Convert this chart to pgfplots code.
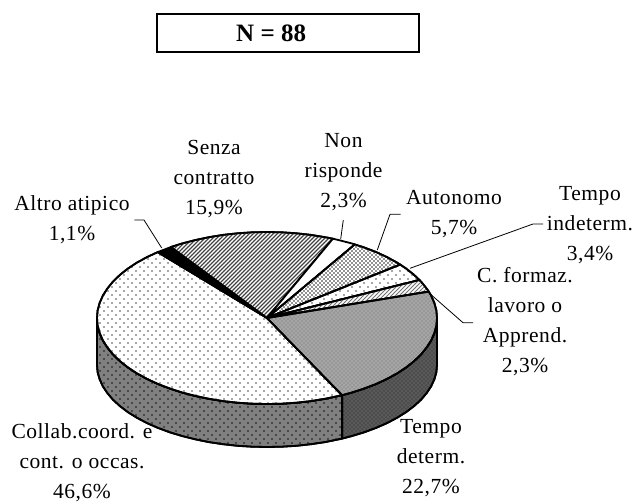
\documentclass[border=0pt]{standalone}
\usepackage{fontspec}
\setmainfont{Liberation Serif}
\usepackage{pgfplots}
\pgfplotsset{compat=1.18}
\usetikzlibrary{patterns.meta}
\tikzset{
  edge/.style={draw=black, line width=1.8pt, line join=round},
  leader/.style={draw=black, line width=0.8pt},
  lab/.style={align=center, font=\fontsize{21.5}{30}\selectfont\addfontfeature{LetterSpace=2.5}, inner sep=0pt},
}
\begin{document}
\begin{tikzpicture}
\begin{axis}[
    width=635pt, height=503pt, scale only axis,
    xmin=0, xmax=635, ymin=0, ymax=503,
    y dir=reverse,
    hide axis, clip=false,
  ]
\path (axis cs:0,0) rectangle (axis cs:635,503);

% side wall, Collab. (180 to 296.2 deg)
\addplot[edge, fill=black!50, postaction={pattern={Dots[radius=0.85pt,distance=5.657pt,angle=45]}, pattern color=black}] coordinates {
  (97,318) (97.6,325.5) (99.6,332.9) (102.8,340.3) (107.3,347.4) (112.9,354.3) (119.8,361) (127.7,367.3)
  (136.8,373.3) (146.8,378.8) (157.7,383.9) (169.5,388.4) (182,392.5) (195.2,395.9) (208.9,398.8) (223,401.1)
  (237.5,402.7) (252.2,403.7) (267,404) (281.8,403.7) (296.5,402.7) (311,401.1) (325.1,398.8) (338.8,395.9) (342.1,395.2)
  (342.1,438.6) (338.8,439.3) (325.1,442.1) (311,444.2) (296.5,445.8) (281.8,446.7) (267,447) (252.2,446.7) (237.5,445.8)
  (223,444.2) (208.9,442.1) (195.2,439.3) (182,436) (169.5,432.2) (157.7,427.8) (146.8,423) (136.8,417.7)
  (127.7,412) (119.8,406) (112.9,399.7) (107.3,393) (102.8,386.2) (99.6,379.2) (97.6,372.1) (97,365)
} -- cycle;

% side wall, Tempo determ. (296.2 to 360 deg)
\addplot[edge, fill=black!65, postaction={pattern={Dots[radius=0.6pt,distance=2.828pt,angle=45]}, pattern color=black}] coordinates {
  (342.1,395.2) (352,392.5) (364.5,388.4) (376.3,383.9) (387.2,378.8) (397.2,373.3) (406.3,367.3) (414.2,361)
  (421.1,354.3) (426.7,347.4) (431.2,340.3) (434.4,332.9) (436.4,325.5) (437,318)
  (437,365) (436.4,372.1) (434.4,379.2) (431.2,386.2) (426.7,393) (421.1,399.7) (414.2,406) (406.3,412)
  (397.2,417.7) (387.2,423) (376.3,427.8) (364.5,432.2) (352,436) (342.1,438.6)
} -- cycle;

% Collab.coord. e cont. o occas. 46,6%
\addplot[edge, fill=white, postaction={pattern={Dots[radius=0.85pt,distance=5.657pt,angle=45]}, pattern color=black!80}] coordinates {
  (267,318) (342.1,395.2) (338.8,395.9) (325.1,398.8) (311,401.1) (296.5,402.7) (281.8,403.7) (267,404) (252.2,403.7)
  (237.5,402.7) (223,401.1) (208.9,398.8) (195.2,395.9) (182,392.5) (169.5,388.4) (157.7,383.9) (146.8,378.8)
  (136.8,373.3) (127.7,367.3) (119.8,361) (112.9,354.3) (107.3,347.4) (102.8,340.3) (99.6,332.9) (97.6,325.5)
  (97,318) (97.6,310.5) (99.6,303.1) (102.8,295.7) (107.3,288.6) (112.9,281.7) (119.8,275) (127.7,268.7)
  (136.8,262.7) (146.8,257.2) (157.7,252.1)
} -- cycle;

% Altro atipico 1,1%
\addplot[edge, fill=black] coordinates {
  (267,318) (157.7,252.1) (169.5,247.6) (170.9,247)
} -- cycle;

% Senza contratto 15,9%
\addplot[edge, fill=white, postaction={pattern={Lines[angle=45,distance=2.828pt,line width=1.3pt]}, pattern color=black!75}] coordinates {
  (267,318) (170.9,247) (182,243.5) (195.2,240.1) (208.9,237.2) (223,234.9) (237.5,233.3) (252.2,232.3) (267,232)
  (281.8,232.3) (296.5,233.3) (311,234.9) (325.1,237.2) (332.9,238.7)
} -- cycle;

% Non risponde 2,3%
\addplot[edge, fill=white] coordinates {
  (267,318) (332.9,238.7) (338.8,240.1) (352,243.5) (354.8,244.4)
} -- cycle;

% Autonomo 5,7%
\addplot[edge, fill=white, postaction={pattern={Dots[radius=0.8pt,distance=2.828pt,angle=45]}, pattern color=black}] coordinates {
  (267,318) (354.8,244.4) (364.5,247.6) (376.3,252.1) (387.2,257.2) (397.2,262.7) (400.2,264.6)
} -- cycle;

% Tempo indeterm. 3,4%
\addplot[edge, fill=white, postaction={pattern={Dots[radius=0.85pt,distance=5.657pt,angle=45]}, pattern color=black!80}] coordinates {
  (267,318) (400.2,264.6) (406.3,268.7) (414.2,275) (419.5,280)
} -- cycle;

% C. formaz. lavoro o Apprend. 2,3%
\addplot[edge, fill=white, postaction={pattern={Lines[angle=45,distance=2.828pt,line width=0.9pt]}, pattern color=black!55}] coordinates {
  (267,318) (419.5,280) (421.1,281.7) (426.7,288.6) (428.8,291.6)
} -- cycle;

% Tempo determ. 22,7%
\addplot[edge, fill=black!35, postaction={pattern={Dots[radius=0.6pt,distance=2.828pt,angle=45]}, pattern color=black!80}] coordinates {
  (267,318) (428.8,291.6) (431.2,295.7) (434.4,303.1) (436.4,310.5) (437,318) (436.4,325.5) (434.4,332.9) (431.2,340.3)
  (426.7,347.4) (421.1,354.3) (414.2,361) (406.3,367.3) (397.2,373.3) (387.2,378.8) (376.3,383.9) (364.5,388.4)
  (352,392.5) (342.1,395.2)
} -- cycle;

% leader lines
\addplot[leader] coordinates {(134.3,220) (144,220) (161.7,248)};
\addplot[leader] coordinates {(343.3,220) (340.7,239)};
\addplot[leader] coordinates {(400.7,214.3) (390,214.3) (377.3,250)};
\addplot[leader] coordinates {(410,268.3) (533,224) (543,224)};
\addplot[leader] coordinates {(428,292) (463,322.7) (473,322.7)};

% title box
\addplot[draw=black, line width=2pt, fill=white] coordinates {(157,14) (419,14) (419,52) (157,52)} -- cycle;
\node[anchor=west, inner sep=0pt, font=\fontsize{25}{30}\selectfont\bfseries] at (axis cs:236,33) {N = 88};

% slice labels
\node[lab] at (axis cs:72,220) {Altro atipico\\1,1\%};
\node[lab] at (axis cs:214,179) {Senza\\contratto\\15,9\%};
\node[lab] at (axis cs:343.5,172) {Non\\risponde\\2,3\%};
\node[lab] at (axis cs:454,214) {Autonomo\\5,7\%};
\node[lab] at (axis cs:590,225) {Tempo\\indeterm.\\3,4\%};
\node[lab] at (axis cs:525,322) {C. formaz.\\lavoro o\\Apprend.\\2,3\%};
\node[lab] at (axis cs:431,458) {Tempo\\determ.\\22,7\%};
\node[lab] at (axis cs:82,463) {Collab.coord. e\\cont. o occas.\\46,6\%};
\end{axis}
\end{tikzpicture}
\end{document}
